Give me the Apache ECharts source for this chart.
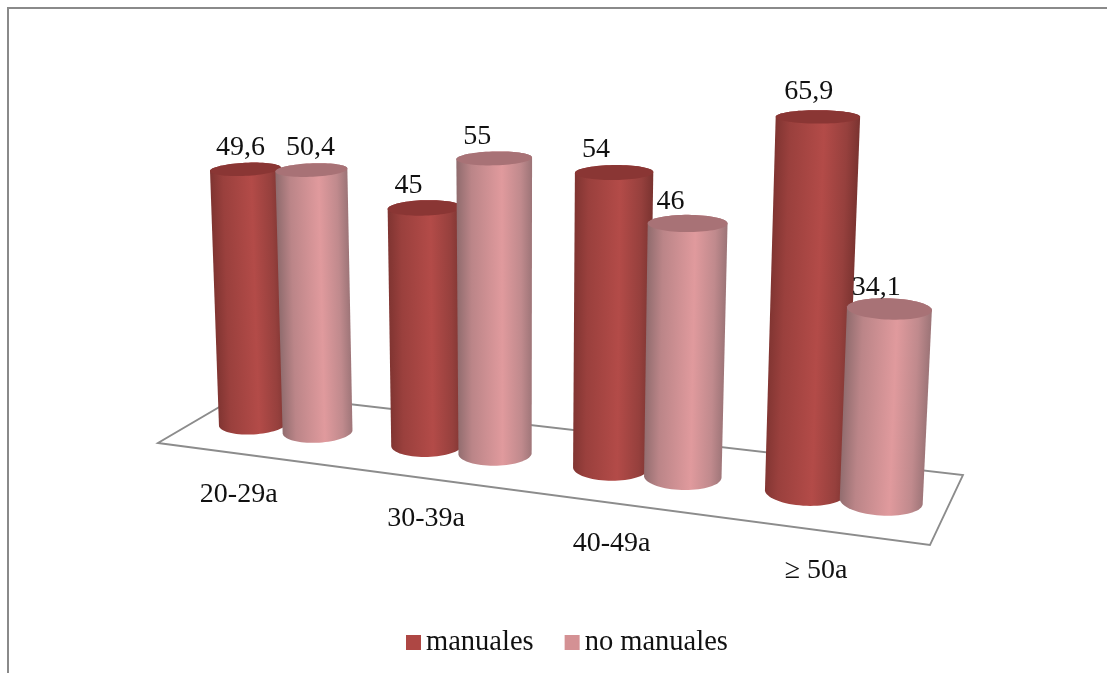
<!DOCTYPE html>
<html>
<head>
<meta charset="utf-8">
<style>html,body{margin:0;padding:0;background:#fff}#chart{width:1107px;height:673px}</style>
<script src="https://cdn.jsdelivr.net/npm/echarts@6/dist/echarts.min.js"></script>
</head>
<body>
<div id="chart"></div>
<script>
// Occupational groups by age band, percentages
const categories = ['20-29a', '30-39a', '40-49a', '≥ 50a'];
const seriesNames = ['manuales', 'no manuales'];
const manuales = [49.6, 45, 54, 65.9];
const noManuales = [50.4, 55, 46, 34.1];
const labelsManuales = ['49,6', '45', '54', '65,9'];
const labelsNoManuales = ['50,4', '55', '46', '34,1'];

// Perspective of the floor: corners of the unit square on screen
const FLOOR = [[158, 443], [930, 545], [963, 475], [245, 392]];
// Vanishing point of the vertical direction and its weight per value unit
const VERT = { x: 520, y: 9000, k: -0.00058 };
const Y_MAX = 100;
const U_SHIFT = -0.002;    // offset of the cylinders from the band centre
const U_BEND = 0.07;       // evens out the spacing of the bands along the floor
const Z_TRIM = 0.05;       // evens out the height scale along the floor
const Z_TRIM_AT = 0.62;    // floor position where the height scale is left alone
const DEPTH = 0.49;        // depth of the row of cylinders on the floor
const BAR_STEP = 0.094;    // distance of a cylinder from the next one on the floor
const RADIUS_U = 0.047;    // cylinder radius along the categories
const RADIUS_V = 0.2;      // cylinder radius in depth
const FONT = '28px "Liberation Serif"';
const LABEL_SHIFT = [[[-5, -22], [-1, -22]], [[-16, -22], [-17, -22]], [[-18, -23], [-17, -22]], [[-9, -25], [-13, -21]]];
const AXIS_LABEL_SHIFT = [[-6, 40], [0, 40], [-7, 40], [-7, 40]];

const H = (function (q) {
  const [x0, y0] = q[0], [x1, y1] = q[1], [x2, y2] = q[2], [x3, y3] = q[3];
  const dx1 = x1 - x2, dx2 = x3 - x2, sx = x0 - x1 + x2 - x3;
  const dy1 = y1 - y2, dy2 = y3 - y2, sy = y0 - y1 + y2 - y3;
  const den = dx1 * dy2 - dx2 * dy1;
  const g = (sx * dy2 - dx2 * sy) / den, h = (dx1 * sy - sx * dy1) / den;
  return { a: x1 - x0 + g * x1, b: x3 - x0 + h * x3, c: x0, d: y1 - y0 + g * y1, e: y3 - y0 + h * y3, f: y0, g, h };
})(FLOOR);

function project(u, v, z) {
  const w = H.g * u + H.h * v + 1 + z * VERT.k;
  return [
    (H.a * u + H.b * v + H.c + z * VERT.k * VERT.x) / w,
    (H.d * u + H.e * v + H.f + z * VERT.k * VERT.y) / w
  ];
}

const bend = u => u + U_BEND * u * (1 - u);

function ring(u, z) {
  const pts = [];
  for (let i = 0; i < 72; i++) {
    const t = i / 72 * Math.PI * 2;
    pts.push(project(u + RADIUS_U * Math.cos(t), DEPTH + RADIUS_V * Math.sin(t), z));
  }
  return pts;
}

function hull(points) {
  const p = points.slice().sort((a, b) => a[0] - b[0] || a[1] - b[1]);
  const cross = (o, a, b) => (a[0] - o[0]) * (b[1] - o[1]) - (a[1] - o[1]) * (b[0] - o[0]);
  const lower = [], upper = [];
  for (const pt of p) {
    while (lower.length > 1 && cross(lower[lower.length - 2], lower[lower.length - 1], pt) <= 0) lower.pop();
    lower.push(pt);
  }
  for (const pt of p.slice().reverse()) {
    while (upper.length > 1 && cross(upper[upper.length - 2], upper[upper.length - 1], pt) <= 0) upper.pop();
    upper.push(pt);
  }
  return lower.slice(0, -1).concat(upper.slice(0, -1));
}

const SHADES = [
  { side: [[0, '#7f3431'], [0.18, '#9a403d'], [0.58, '#b34b48'], [0.85, '#96403d'], [1, '#7a3330']], top: '#8a3634' },
  { side: [[0, '#8f6b6d'], [0.2, '#bb8588'], [0.6, '#e09a9d'], [0.85, '#c08a8d'], [1, '#9c7477']], top: '#a87276' }
];

function cylinderRenderer(slot, texts) {
  return function (params, api) {
    const cs = params.coordSys;
    const idx = api.value(0);
    const at = api.coord([idx, api.value(1)]);
    const u = bend((at[0] - cs.x) / cs.width + (slot - 0.5) * BAR_STEP) + U_SHIFT;
    const z = (cs.y + cs.height - at[1]) / cs.height * Y_MAX * (1 + Z_TRIM * (Z_TRIM_AT - u));
    const base = ring(u, 0), top = ring(u, z);
    const b = project(u, DEPTH, 0), t = project(u, DEPTH, z);
    const len = Math.hypot(t[0] - b[0], t[1] - b[1]);
    const nx = -(t[1] - b[1]) / len, ny = (t[0] - b[0]) / len;
    const rx = Math.max.apply(null, top.map(p => p[0])) - t[0];
    const mid = [(b[0] + t[0]) / 2, (b[1] + t[1]) / 2];
    const sign = nx > 0 ? 1 : -1;
    const shift = LABEL_SHIFT[idx][slot];
    const shade = SHADES[slot];
    return {
      type: 'group',
      children: [
        {
          type: 'polygon',
          shape: { points: hull(base.concat(top)) },
          style: {
            fill: {
              type: 'linear', global: true,
              x: mid[0] - sign * nx * rx, y: mid[1] - sign * ny * rx,
              x2: mid[0] + sign * nx * rx, y2: mid[1] + sign * ny * rx,
              colorStops: shade.side.map(s => ({ offset: s[0], color: s[1] }))
            }
          }
        },
        { type: 'polygon', shape: { points: top }, style: { fill: shade.top } },
        {
          type: 'text',
          style: {
            text: texts[idx], x: t[0] + shift[0], y: t[1] + shift[1],
            font: FONT, fill: '#111', align: 'center', verticalAlign: 'middle'
          },
          z2: 50
        }
      ]
    };
  };
}

function floorRenderer(params, api) {
  const cs = params.coordSys;
  const idx = api.value(0);
  const at = api.coord([idx, 0]);
  const p = project(bend((at[0] - cs.x) / cs.width), 0, 0);
  const shift = AXIS_LABEL_SHIFT[idx];
  const children = [{
    type: 'text',
    style: {
      text: categories[idx], x: p[0] + shift[0], y: p[1] + shift[1],
      font: FONT, fill: '#111', align: 'center', verticalAlign: 'middle'
    }
  }];
  if (idx === 0) {
    children.unshift({
      type: 'polygon',
      shape: { points: [project(0, 0, 0), project(1, 0, 0), project(1, 1, 0), project(0, 1, 0)] },
      style: { fill: 'none', stroke: '#8c8c8c', lineWidth: 1.8 }
    });
  }
  return { type: 'group', children };
}

const chart = echarts.init(document.getElementById('chart'));
chart.setOption({
  animation: false,
  backgroundColor: '#fff',
  grid: { left: 100, top: 50, width: 800, height: 500 },
  xAxis: { type: 'category', data: categories, show: false },
  yAxis: { type: 'value', min: 0, max: Y_MAX, show: false },
  graphic: [{
    type: 'polyline',
    shape: { points: [[8, 673], [8, 8], [1107, 8]] },
    style: { fill: 'none', stroke: '#8a8a8a', lineWidth: 2 },
    silent: true
  }],
  legend: {
    data: seriesNames,
    left: 406, top: 628, padding: 0,
    icon: 'rect', itemWidth: 15, itemHeight: 15, itemGap: 31,
    textStyle: { fontFamily: 'Liberation Serif', fontSize: 28.5, color: '#111' }
  },
  series: [
    { type: 'custom', name: 'floor', data: categories.map((c, i) => [i, 0]), renderItem: floorRenderer, z: 1 },
    {
      type: 'custom', name: seriesNames[0], z: 2,
      itemStyle: { color: '#ae4744' },
      data: manuales.map((v, i) => [i, v]),
      renderItem: cylinderRenderer(0, labelsManuales)
    },
    {
      type: 'custom', name: seriesNames[1], z: 3,
      itemStyle: { color: '#d49194' },
      data: noManuales.map((v, i) => [i, v]),
      renderItem: cylinderRenderer(1, labelsNoManuales)
    }
  ]
});
</script>
</body>
</html>
